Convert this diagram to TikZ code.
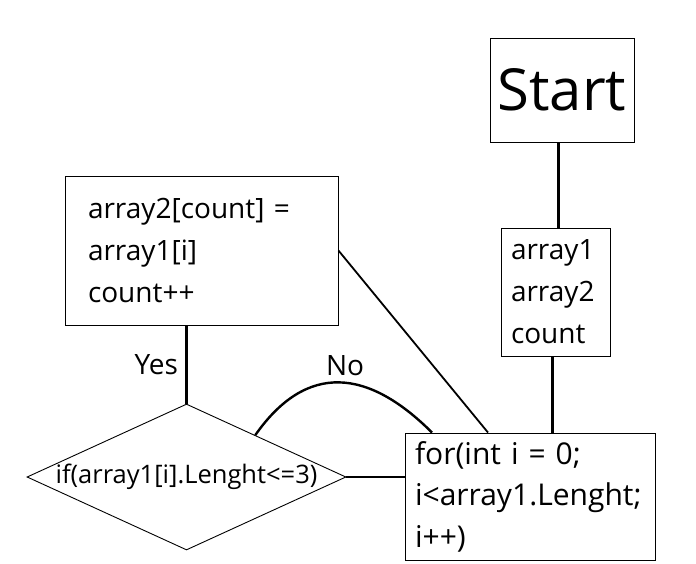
\documentclass[tikz,border=0pt]{standalone}
\usepackage{fontspec}
\setmainfont{Open Sans}
\usetikzlibrary{shapes.geometric, calc}

\begin{document}
\begin{tikzpicture}[x = 1pt, y = -1pt,
	box/.style = {draw, line width = 0.9pt, inner xsep = 10pt, inner ysep = 0pt, align = left, font = \fontsize{28}{42}\selectfont},
	decision/.style = {diamond, draw, line width = 0.9pt, inner sep = 0pt, font = \fontsize{25.5}{28}\selectfont},
	link/.style = {line width = 2.4pt},
	tag/.style = {font = \fontsize{28}{32}\selectfont}]

	\useasboundingbox (0, 0) rectangle (696, 564);

	% Boxes

	\node [box, inner xsep = 0pt, minimum width = 144pt, minimum height = 104pt, font = \fontsize{58}{60}\selectfont] (start) at (562, 90) {Start};
	\node [box, text width = 89pt, minimum height = 128pt] (vars) at (555.5, 292) {array1\\array2\\count};
	\node [box, inner xsep = 23pt, text width = 227pt, minimum height = 149pt] (assign) at (201.5, 250.5) {array2[count] =\\array1[i]\\count++};
	\node [box, text width = 230pt, minimum height = 127pt, font = \fontsize{30}{41.5}\selectfont] (loop) at (530, 496.5) {for(int i = 0;\\i<array1.Lenght;\\i++)};

	% Condition

	\node [decision, minimum width = 319pt, minimum height = 146pt] (if) at (186.5, 477) {\makebox[0pt]{if(array1[i].Lenght<=3)}};

	% Connectors

	\draw [link] (vars.north) ++(3, 0) coordinate (v) -- (v |- start.south);
	\draw [link] ([xshift = -3pt] vars.south) -- ([xshift = -3pt] vars.south |- loop.north);
	\draw [link, line width = 1.8pt] (assign.east) -- ([xshift = -42pt] loop.north);
	\draw [link] (if.east) -- (if.east -| loop.west);
	\draw [link] (if.north) -- node [tag, left, xshift = -4pt] {Yes} (if.north |- assign.south);
	\draw [link] ($(if.north)!0.43!(if.east)$) to [out = 55, in = 135, looseness = 1.3] node [tag, above, xshift = 6pt, yshift = 2pt] {No} ([xshift = -98pt] loop.north);

\end{tikzpicture}
\end{document}
